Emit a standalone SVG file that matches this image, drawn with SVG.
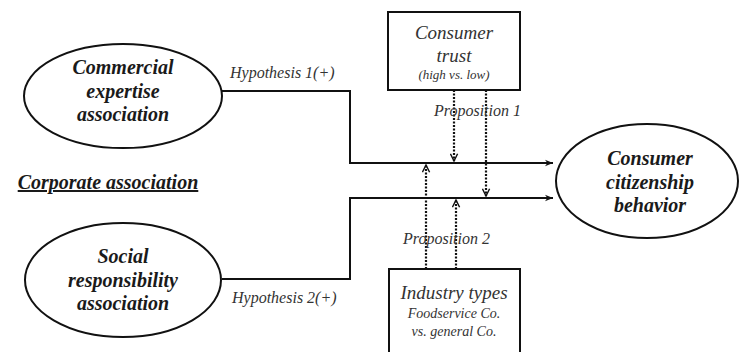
<svg xmlns="http://www.w3.org/2000/svg" width="739" height="352" viewBox="0 0 739 352">
<defs>
<marker id="ah" viewBox="0 0 10 10" refX="10" refY="5" markerWidth="10" markerHeight="8" markerUnits="userSpaceOnUse" orient="auto">
<path d="M0,1 L10,5 L0,9 L3,5 Z" fill="#111"/>
</marker>
<marker id="dh" viewBox="0 0 10 10" refX="9" refY="5" markerWidth="9" markerHeight="9" markerUnits="userSpaceOnUse" orient="auto">
<path d="M1,1 L9,5 L1,9" fill="none" stroke="#111" stroke-width="1.6"/>
</marker>
<style>
.node{fill:#fff;stroke:#111;stroke-width:2}
.bi{font-weight:bold;font-style:italic;font-size:20px;fill:#1a1a1a;text-anchor:middle}
.it{font-style:italic;fill:#333}
.ln{fill:none;stroke:#111;stroke-width:2}
.dl{fill:none;stroke:#111;stroke-width:2.2;stroke-dasharray:2 1.5}
</style>
</defs>
<g font-family="Liberation Serif, serif">
<g id="connectors">
<path class="ln" d="M222,91 H350 V163 H553" marker-end="url(#ah)"/>
<path class="ln" d="M222,279 H350 V198 H553" marker-end="url(#ah)"/>
<path class="dl" d="M454,90 V161" marker-end="url(#dh)"/>
<path class="dl" d="M486,90 V196" marker-end="url(#dh)"/>
<path class="dl" d="M426,269 V165" marker-end="url(#dh)"/>
<path class="dl" d="M456,269 V200" marker-end="url(#dh)"/>
<text class="it" x="230" y="78" font-size="16">Hypothesis 1(+)</text>
<text class="it" x="232" y="303" font-size="16">Hypothesis 2(+)</text>
<text class="it" x="434" y="116" font-size="16">Proposition 1</text>
<text class="it" x="403" y="244" font-size="16">Proposition 2</text>
</g>
<g id="commercial">
<ellipse class="node" cx="123" cy="96" rx="99" ry="52"/>
<text class="bi" x="123" y="74">Commercial</text>
<text class="bi" x="123" y="98">expertise</text>
<text class="bi" x="123" y="121">association</text>
</g>
<g id="social">
<ellipse class="node" cx="123" cy="280" rx="98" ry="57"/>
<text class="bi" x="123" y="263">Social</text>
<text class="bi" x="123" y="287">responsibility</text>
<text class="bi" x="123" y="310">association</text>
</g>
<g id="corporate">
<text class="bi" x="108" y="189" text-decoration="underline">Corporate association</text>
</g>
<g id="trust">
<rect class="node" x="388" y="12" width="132" height="78"/>
<text class="it" x="454" y="39" font-size="19" text-anchor="middle">Consumer</text>
<text class="it" x="454" y="62" font-size="19" text-anchor="middle">trust</text>
<text class="it" x="454" y="79" font-size="13" text-anchor="middle">(high vs. low)</text>
</g>
<g id="industry">
<rect class="node" x="389" y="269" width="131" height="90"/>
<text class="it" x="454" y="299" font-size="19" text-anchor="middle">Industry types</text>
<text class="it" x="454" y="318" font-size="14" text-anchor="middle">Foodservice Co.</text>
<text class="it" x="454" y="336" font-size="14" text-anchor="middle">vs. general Co.</text>
</g>
<g id="citizenship">
<ellipse class="node" cx="647" cy="181" rx="91" ry="57"/>
<text class="bi" x="650" y="165">Consumer</text>
<text class="bi" x="650" y="189">citizenship</text>
<text class="bi" x="650" y="212">behavior</text>
</g>
</g>
</svg>
